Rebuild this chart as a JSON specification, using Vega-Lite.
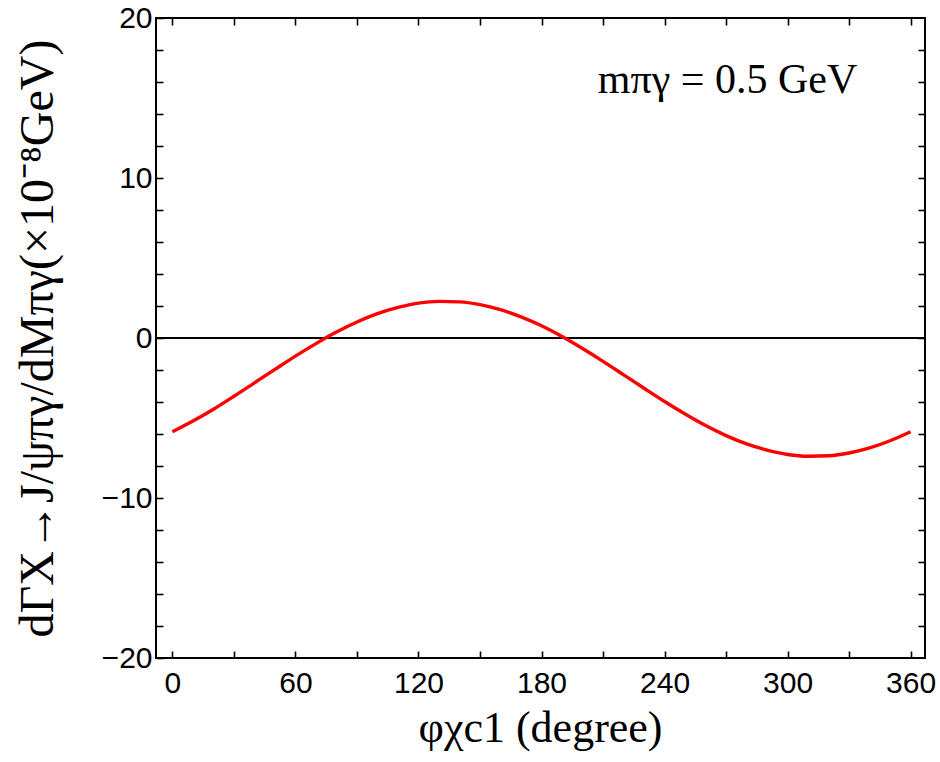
{
  "$schema": "https://vega.github.io/schema/vega-lite/v6.json",
  "width": 769,
  "height": 640,
  "autosize": {"type": "none"},
  "padding": {"left": 156, "top": 18, "right": 15, "bottom": 104},
  "background": "white",
  "config": {
    "view": {"stroke": "black", "strokeWidth": 2},
    "axis": {
      "domain": false,
      "grid": false,
      "ticks": true,
      "tickColor": "black",
      "tickWidth": 1.6,
      "tickSize": -7,
      "labelFont": "Liberation Sans",
      "labelFontSize": 30,
      "labelColor": "black",
      "titleColor": "black",
      "titleFont": "Liberation Serif",
      "titleFontWeight": "normal"
    }
  },
  "datasets": {
    "curve": [
      {"phi": 0, "rate": -5.86}, {"phi": 10, "rate": -5.19}, {"phi": 20, "rate": -4.45},
      {"phi": 30, "rate": -3.64}, {"phi": 40, "rate": -2.80}, {"phi": 50, "rate": -1.96},
      {"phi": 60, "rate": -1.13}, {"phi": 70, "rate": -0.35}, {"phi": 80, "rate": 0.37},
      {"phi": 90, "rate": 1.00}, {"phi": 100, "rate": 1.52}, {"phi": 110, "rate": 1.91},
      {"phi": 120, "rate": 2.18}, {"phi": 130, "rate": 2.29}, {"phi": 140, "rate": 2.26},
      {"phi": 150, "rate": 2.09}, {"phi": 160, "rate": 1.77}, {"phi": 170, "rate": 1.32},
      {"phi": 180, "rate": 0.76}, {"phi": 190, "rate": 0.09}, {"phi": 200, "rate": -0.66},
      {"phi": 210, "rate": -1.46}, {"phi": 220, "rate": -2.30}, {"phi": 230, "rate": -3.14},
      {"phi": 240, "rate": -3.97}, {"phi": 250, "rate": -4.75}, {"phi": 260, "rate": -5.47},
      {"phi": 270, "rate": -6.10}, {"phi": 280, "rate": -6.62}, {"phi": 290, "rate": -7.01},
      {"phi": 300, "rate": -7.28}, {"phi": 310, "rate": -7.39}, {"phi": 320, "rate": -7.36},
      {"phi": 330, "rate": -7.19}, {"phi": 340, "rate": -6.87}, {"phi": 350, "rate": -6.42},
      {"phi": 360, "rate": -5.86}
    ],
    "note": [{"phi": 270.7, "rate": 16.1, "label": "mπγ = 0.5 GeV"}],
    "zero": [{"rate": 0}]
  },
  "layer": [
    {
      "data": {"name": "zero"},
      "mark": {"type": "rule", "color": "black", "strokeWidth": 1.8},
      "encoding": {
        "y": {
          "field": "rate", "type": "quantitative",
          "scale": {"domain": [-20, 20], "nice": false, "zero": false},
          "axis": {"orient": "right", "labels": false, "title": null,
                   "values": [-18, -16, -14, -12, -10, -8, -6, -4, -2, 0, 2, 4, 6, 8, 10, 12, 14, 16, 18]}
        }
      }
    },
    {
      "data": {"name": "curve"},
      "mark": {"type": "line", "color": "#ff0000", "strokeWidth": 3.4, "interpolate": "monotone"},
      "encoding": {
        "x": {
          "field": "phi", "type": "quantitative",
          "scale": {"domain": [-8, 367], "nice": false, "zero": false},
          "axis": {
            "orient": "bottom",
            "values": [0, 30, 60, 90, 120, 150, 180, 210, 240, 270, 300, 330, 360],
            "labelExpr": "datum.value % 60 == 0 ? datum.label : ''",
            "labelPadding": 17,
            "title": "φχc1 (degree)",
            "titleFontSize": 44,
            "titleX": 384,
            "titleY": 70,
            "titleBaseline": "middle",
            "titleAlign": "center"
          }
        },
        "y": {
          "field": "rate", "type": "quantitative",
          "scale": {"domain": [-20, 20], "nice": false, "zero": false},
          "axis": {
            "orient": "left",
            "values": [-20, -18, -16, -14, -12, -10, -8, -6, -4, -2, 0, 2, 4, 6, 8, 10, 12, 14, 16, 18, 20],
            "labelExpr": "datum.value % 10 == 0 ? replace(datum.label, '-', '−') : ''",
            "labelPadding": 11,
            "title": "dΓX→J/ψπγ/dMπγ(×10⁻⁸GeV)",
            "titleFontSize": 48,
            "titleAngle": -90,
            "titleX": -118,
            "titleY": 320,
            "titleBaseline": "middle",
            "titleAlign": "center"
          }
        }
      }
    },
    {
      "data": {"name": "note"},
      "mark": {"type": "text", "font": "Liberation Serif", "fontSize": 42, "color": "black", "align": "center", "baseline": "middle"},
      "encoding": {
        "x": {
          "field": "phi", "type": "quantitative",
          "axis": {"orient": "top", "labels": false, "title": null,
                   "values": [0, 30, 60, 90, 120, 150, 180, 210, 240, 270, 300, 330, 360]}
        },
        "y": {"field": "rate", "type": "quantitative", "axis": null},
        "text": {"field": "label"}
      }
    }
  ],
  "resolve": {"axis": {"x": "independent", "y": "independent"}}
}
